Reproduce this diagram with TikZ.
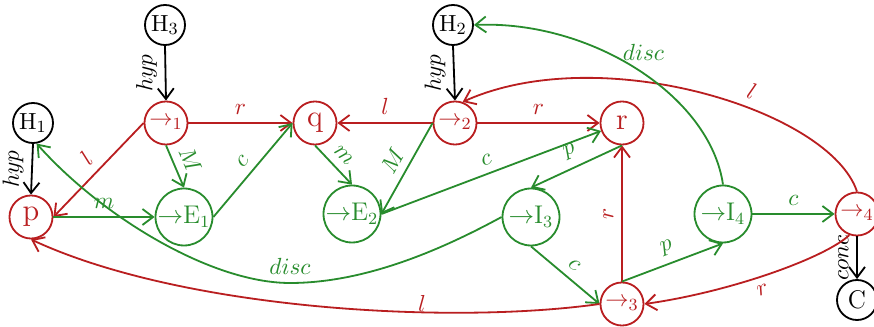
\documentclass[tikz,border=0pt,11pt]{standalone}
\usepackage{amsmath,amssymb}
\usepackage{tikz}
\usetikzlibrary{arrows.meta,positioning,calc}

\definecolor{linkred}{RGB}{185,30,32}
\definecolor{linkgreen}{RGB}{40,140,45}

\begin{document}
\begin{tikzpicture}[x=0.0165cm,y=-0.0165cm,line width=0.85pt,
  fnode/.style={circle,draw=linkred,text=linkred,minimum size=0.71cm,inner sep=0pt},
  rnode/.style={circle,draw=linkgreen,text=linkgreen,minimum size=0.94cm,inner sep=0pt,font=\large},
  hnode/.style={circle,draw=black,minimum size=0.66cm,inner sep=0pt},
  tip/.style={-{Straight Barb[length=5pt,width=7.5pt]}}]
\useasboundingbox (0,0) rectangle (874,327);
% Hypotheses and conclusion
\node[hnode] (h3) at (165,25) {$\mathrm{H}_3$};
\node[hnode] (h1) at (33,123) {$\mathrm{H}_1$};
\node[hnode] (h2) at (453,25) {$\mathrm{H}_2$};
\node[hnode] (cc) at (857,300) {\large C};
% Formula nodes
\node[fnode] (imp1) at (166,123) {$\rightarrow_1$};
\node[fnode,font=\Large] (fp) at (31,217) {p};
\node[fnode,font=\Large] (fq) at (315,123) {q};
\node[fnode] (imp2) at (455,123) {$\rightarrow_2$};
\node[fnode,font=\Large] (fr) at (622,123) {r};
\node[fnode] (imp3) at (622,304) {$\rightarrow_3$};
\node[fnode] (imp4) at (857,214) {$\rightarrow_4$};
% Rule nodes
\node[rnode] (elim1) at (184,217) {${\rightarrow}\mathrm{E}_1$};
\node[rnode] (elim2) at (352,214) {${\rightarrow}\mathrm{E}_2$};
\node[rnode] (intro3) at (531,217) {${\rightarrow}\mathrm{I}_3$};
\node[rnode] (intro4) at (723,214) {${\rightarrow}\mathrm{I}_4$};
% hyp / conc links
\foreach \s/\e/\l in {h3/imp1/hyp,h1/fp/hyp,h2/imp2/hyp,imp4/cc/conc} {
  \draw[tip] (\s.south) -- node[midway,rotate=90,anchor=south] {$\l$} (\e.north);
}
% Subformula links
\foreach \s/\e/\l in {imp1.east/fq.west/r,imp1.west/fp.east/l,imp2.west/fq.east/l,
    imp2.east/fr.west/r,imp3.north/fr.south/r} {
  \draw[tip,linkred] (\s) -- node[midway,sloped,above] {$\l$} (\e);
}
% Premise and conclusion links of the rules
\foreach \s/\e/\l in {imp1.south/elim1.north/M,fp.east/elim1.west/m,elim1.east/fq.west/c,
    fq.south/elim2.north/m,imp2.west/elim2.east/M,elim2.east/fr/c,fr.south/intro3.north/p,
    intro3.south/imp3.west/c,imp3.north/intro4.south/p,intro4.east/imp4.west/c} {
  \draw[tip,linkgreen] (\s) -- node[midway,sloped,above] {$\l$} (\e);
}
% Long red links
\draw[tip,linkred] (imp4.north) .. controls (830,110) and (600,40) ..
  node[pos=0.4,sloped,above] {$l$} (imp2.70);
\draw[tip,linkred] (imp4.250) .. controls (825,258) and (730,292) ..
  node[pos=0.55,sloped,below] {$r$} (imp3.east);
\draw[tip,linkred] (imp3.west) .. controls (451,325) and (183,310) ..
  node[pos=0.33,sloped,above,inner sep=0pt] {$l$} (fp.south);
% Discharge links
\draw[tip,linkgreen] (intro3.west) .. controls (450,245) and (370,283) .. (290,283)
  node[above] {$disc$} .. controls (210,283) and (100,215) .. (h1.-80);
\draw[tip,linkgreen] (intro4.north) .. controls (710,95) and (590,20) ..
  node[pos=0.5,above,xshift=3pt] {$disc$} (h2.east);
\end{tikzpicture}
\end{document}
